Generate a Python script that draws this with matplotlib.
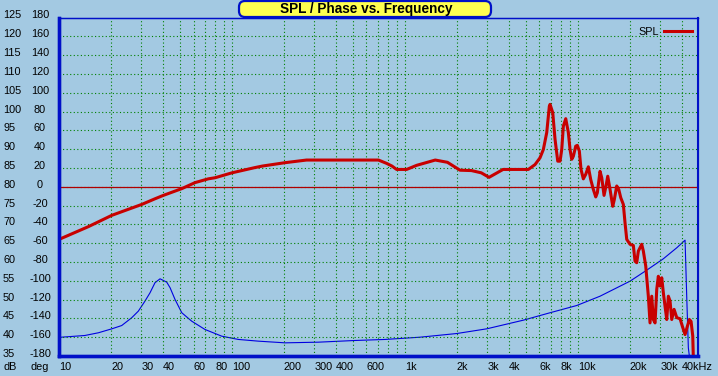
import matplotlib
matplotlib.use("Agg")
import matplotlib.pyplot as plt
from matplotlib.patches import FancyBboxPatch
from matplotlib.transforms import IdentityTransform, blended_transform_factory, offset_copy

# SPL-кривая (Гц, дБ)
spl_freq = [10, 14.8, 20.2, 30.1, 35.9, 40.1, 51.3, 61.2, 73, 80, 100, 136, 150, 203,
            270, 704, 786, 843, 897, 1024, 1172, 1500, 1764, 2086,
            2429, 2770, 3070, 3700, 5181, 5666, 6054, 6327, 6620, 6853,
            6918, 7172, 7395, 7665, 7904, 8085, 8259, 8528, 8828, 9029,
            9237, 9435, 9741, 9950, 10219, 10452, 10777, 11128, 11521, 11894,
            12314, 12714, 12987, 13462, 13772, 14201, 14582, 14918, 15382, 15945,
            16286, 16816, 17271, 17738, 18362, 18781, 19213, 20077, 20979, 21458,
            21948, 22423, 23460, 23967, 24746, 25616, 26201, 26804, 27379, 28006,
            28650, 29264, 29936, 30623, 31285, 32002, 32735, 33444, 34206, 34989,
            36081, 37406, 39087, 40303, 41777, 43076, 44232, 45251, 46285, 46660]
spl_db = [66.0, 69.4, 72.4, 75.3, 76.8, 77.7, 79.5, 81.1, 82.1, 82.4, 83.7, 85.1, 85.5, 86.4,
          87.1, 87.1, 86.2, 85.5, 84.6, 84.6, 85.7, 87.1, 86.5, 84.4,
          84.3, 83.7, 82.5, 84.6, 84.6, 85.9, 87.7, 89.9, 94.4, 101.4,
          101.9, 99.7, 92.6, 86.8, 86.8, 89.9, 96.1, 98.1, 94.4, 89.9,
          87.3, 88.1, 90.8, 91.0, 89.5, 84.6, 82.1, 83.3, 85.3, 81.9,
          79.3, 77.3, 78.4, 84.1, 82.4, 77.7, 80.2, 82.8, 79.3, 74.8,
          76.6, 80.2, 79.3, 77.1, 75.3, 70.4, 66.0, 64.7, 64.4, 60.2,
          59.8, 62.9, 64.7, 62.9, 58.9, 50.9, 43.8, 50.9, 44.7, 43.8,
          52.7, 56.2, 53.6, 55.8, 51.8, 48.2, 44.7, 50.9, 49.6, 44.7,
          47.4, 45.2, 44.9, 42.9, 40.7, 42.9, 44.7, 44.2, 40.3, 34.0]

# фаза (Гц, градусы)
ph_freq = [10, 14.1, 16.9, 20.2, 23.05, 26.3, 28.76, 31.4, 33.6, 35.9, 38.4, 42.0, 43.9,
           46.9, 51.3, 54.8, 58.6, 69.9, 87.3, 109, 142, 203, 316, 515, 768, 1225,
           1997, 2977, 4848, 6918, 9872, 13462, 20077, 25078, 31285, 37406,
           41777, 42730, 43640, 44232]
ph_deg = [-160.2, -158.2, -155.3, -151.1, -147.6, -139.4, -132.3, -121.7, -112.8, -102.1, -97.9, -101.5, -107.4,
          -119.9, -134.0, -138.5, -143.0, -151.8, -158.9, -162.4, -164.2, -166.0, -165.3, -163.5, -162.4, -160.0,
          -156.1, -151.1, -141.9, -134.0, -126.3, -116.4, -100.4, -88.7, -76.6, -64.9,
          -56.8, -118.1, -171.3, -180.0]

db_ticks = list(range(35, 130, 5))
deg_ticks = list(range(-180, 200, 20))
x_grid = [m * 10 ** d for d in range(1, 5) for m in range(1, 10) if m * 10 ** d < 49000]
x_labels = {10: "10", 20: "20", 30: "30", 40: "40", 60: "60", 80: "80", 100: "100",
            200: "200", 300: "300", 400: "400", 600: "600", 1000: "1k", 2000: "2k",
            3000: "3k", 4000: "4k", 6000: "6k", 8000: "8k", 10000: "10k",
            20000: "20k", 30000: "30k", 40000: "40kHz"}

bg = "#A3C9E2"
blue = "#0010C8"
fs = 7.8
plt.rcParams["font.family"] = ["Liberation Sans", "DejaVu Sans"]

fig = plt.figure(figsize=(7.18, 3.76), dpi=100, facecolor=bg)
ax = fig.add_axes([59 / 718, 20 / 376, 638.5 / 718, 338.5 / 376])
ax2 = ax.twinx()
ax.set_zorder(ax2.get_zorder() + 1)
ax.patch.set_visible(False)
ax2.patch.set_facecolor("white")

ax.set_xscale("log")
ax.set_xlim(10, 49300)
ax.set_ylim(35, 125)
ax2.set_ylim(-180, 180)

# сетка
ax.set_xticks(x_grid)
ax.set_xticklabels([x_labels.get(v, "") for v in x_grid])
ax.xaxis.set_minor_locator(plt.NullLocator())
for lbl in ax.get_xticklabels():
    lbl.set_ha("left")
ax.tick_params(axis="x", length=0, pad=4, labelsize=fs)
ax.set_yticks(db_ticks[1:-1])
ax.set_yticklabels([])
ax.tick_params(axis="y", length=0)
ax2.set_yticks([])
ax.grid(True, color="#008000", linestyle=(0, (1, 2.2)), linewidth=0.8)
ax.axhline(80, color="#B00000", linewidth=0.9)

ax2.plot(ph_freq, ph_deg, color="#0000E0", linewidth=0.8)
ax.plot(spl_freq, spl_db, color="#C80000", linewidth=2.2, label="SPL")

for a in (ax, ax2):
    for s in a.spines.values():
        s.set_color(blue)
ax.spines["left"].set_linewidth(2.4)
ax.spines["bottom"].set_linewidth(2.4)
ax.spines["right"].set_linewidth(1.5)
ax.spines["top"].set_linewidth(1.0)
ax2.spines["left"].set_linewidth(2.4)
ax2.spines["bottom"].set_linewidth(2.4)

leg = ax.legend(loc="upper right", frameon=False, markerfirst=False, fontsize=fs,
                handlelength=2.6, borderaxespad=0, borderpad=0.3, handletextpad=0.4,
                bbox_to_anchor=(1 - 2.5 / 638.5, 1 - 6.5 / 338.5))

# подписи осей слева
tr = offset_copy(blended_transform_factory(fig.transFigure, ax.transData), fig=fig, x=0, y=2, units="dots")
for v in db_ticks:
    fig.text(3 / 718, v, str(v), transform=tr, ha="left", va="center", fontsize=fs)
for v, d in zip(db_ticks, deg_ticks):
    fig.text(40 / 718, v, str(d), transform=tr, ha="center", va="center", fontsize=fs)
fig.text(3 / 718, 9 / 376, "dB", ha="left", va="center", fontsize=fs)
fig.text(40 / 718, 9 / 376, "deg", ha="center", va="center", fontsize=fs)

# заголовок в жёлтой рамке
box = FancyBboxPatch((239, 359), 252, 16, boxstyle="round,pad=0,rounding_size=6",
                     transform=IdentityTransform(), facecolor="#FFFF50", edgecolor=blue,
                     linewidth=1.6, zorder=10)
fig.patches.append(box)
fig.text(366 / 718, 366.5 / 376, "SPL / Phase vs. Frequency", ha="center", va="center",
         fontsize=9.8, fontweight="bold", zorder=11)

fig.savefig("out.png", dpi=100, facecolor=bg)
